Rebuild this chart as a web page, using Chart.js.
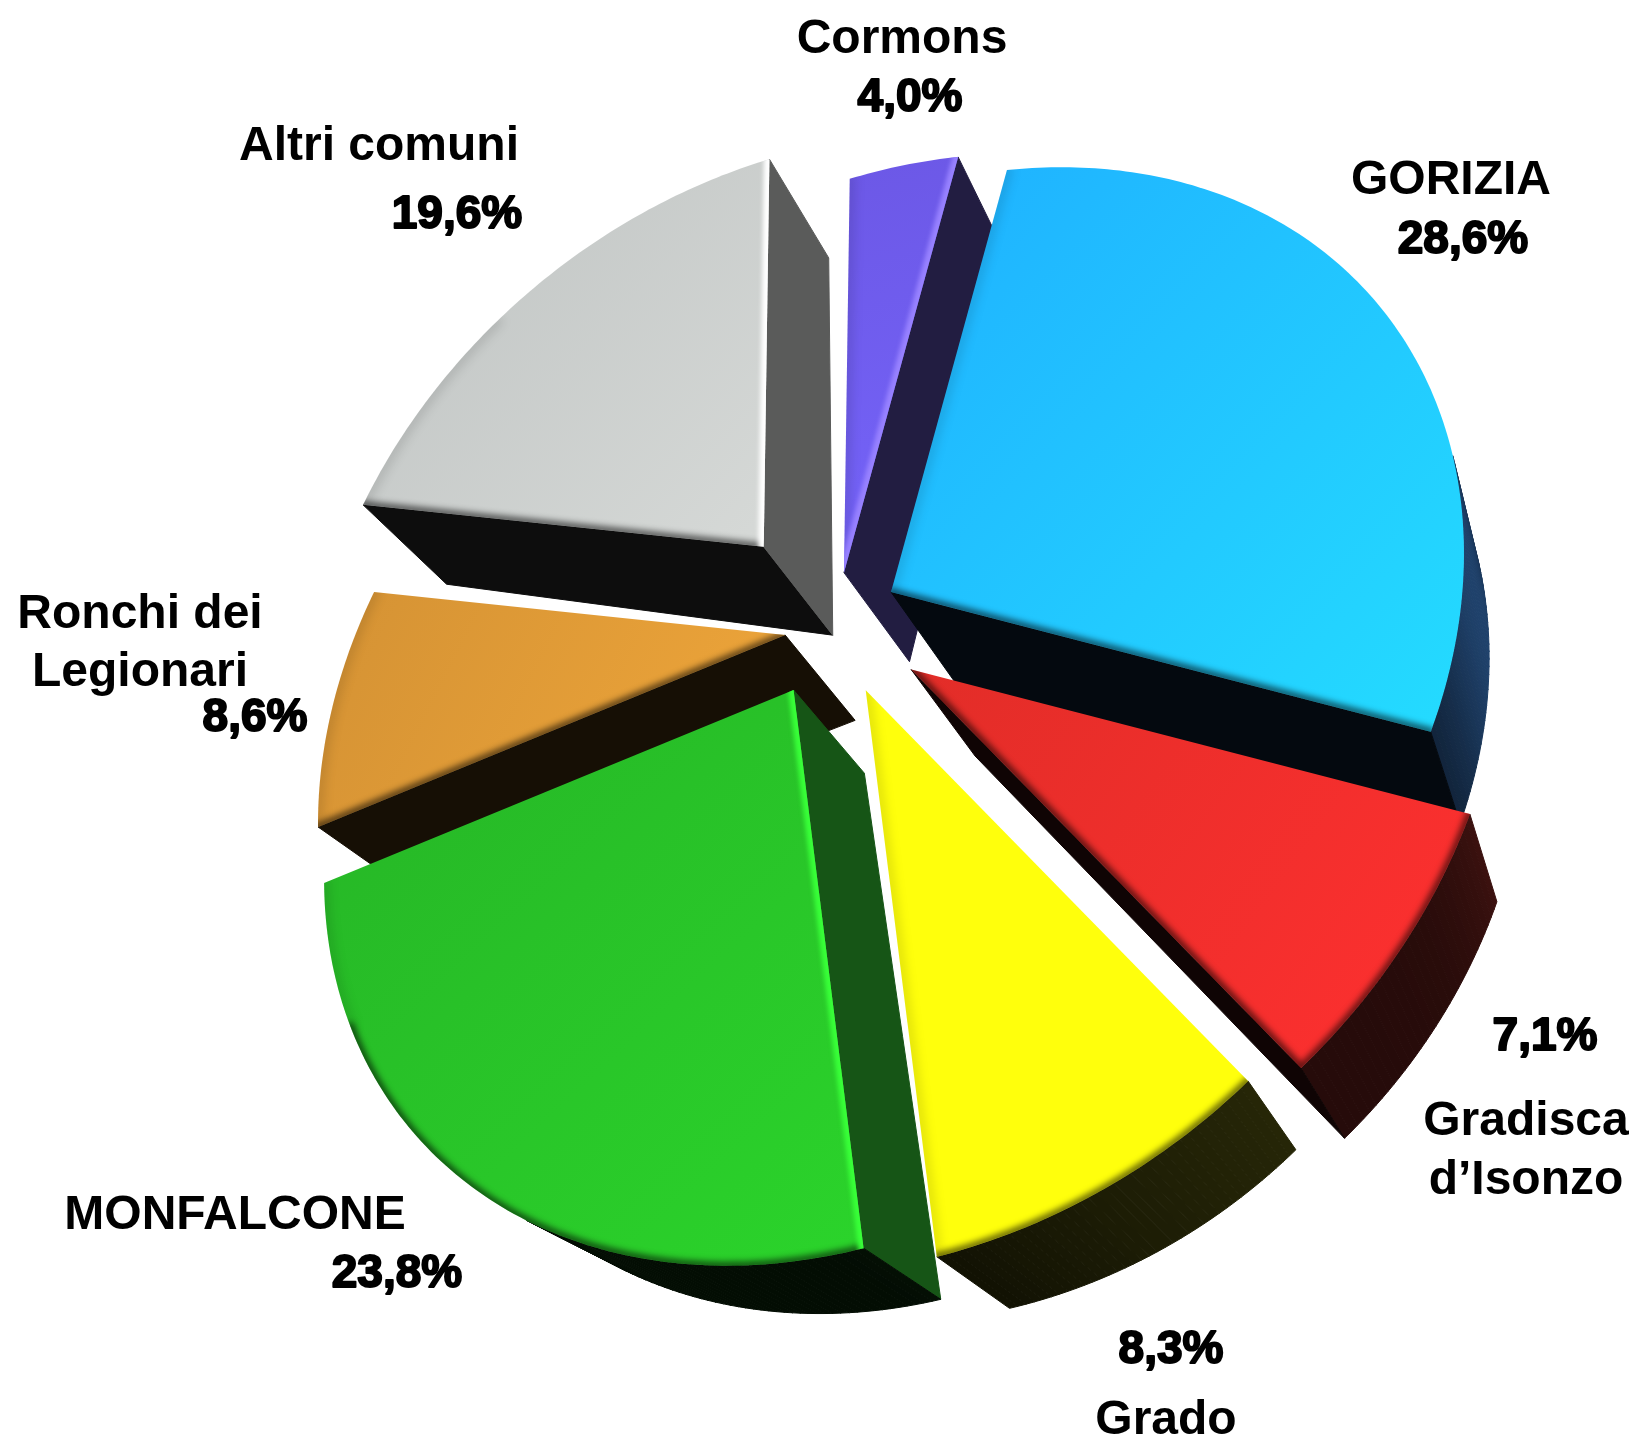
<!DOCTYPE html>
<html>
<head>
<meta charset="utf-8">
<title>Comuni</title>
<script src="https://cdn.jsdelivr.net/npm/chart.js@4/dist/chart.umd.min.js"></script>
<style>
  html, body { margin: 0; padding: 0; background: #fff; }
  canvas { display: block; }
</style>
</head>
<body>
<canvas id="myPie" width="1638" height="1437"></canvas>
<script>
const categories = ['GORIZIA', ['Gradisca', 'd\u2019Isonzo'], 'Grado', 'MONFALCONE', ['Ronchi dei', 'Legionari'], 'Altri comuni', 'Cormons'];
const shares = [28.6, 7.1, 8.3, 23.8, 8.6, 19.6, 4.0];

// how far each slice is pulled out, px on the pie's own radius
const explode = [47, 78, 64, 56, 40, 100, 45];
// perspective: slices nearer the viewer look a bit bigger
const faceScale = [0.995, 1.03, 1.01, 0.995, 0.99, 0.965, 0.98];
const faceFrom = ['#1fb0ff', '#e22d28', '#ffff0c', '#26b426', '#d49234', '#bfc3c2', '#6c58e6'];
const faceTo = ['#24dcff', '#ff3030', '#ffff0c', '#2bd42b', '#efa63a', '#d6d9d7', '#7564fa'];
const sideBase = ['#4a9cff', '#ff4a40', '#ffff30', '#38dc3a', '#efa63a', '#d6d9d7', '#7564e0'];
const drawOrder = [5, 6, 4, 0, 3, 1, 2];

// centre x + baseline for name lines, then for the percent
const nameSpots = [[1451, 194, 56], [1526, 1135, 59], [1166, 1434, 0], [235, 1229, 0], [140, 628, 58], [379, 160, 0], [902, 53, 0]];
const shareSpots = [[1463, 253], [1545, 1050], [1171, 1363], [397, 1287], [255, 731], [457, 228], [910, 111]];

// tilt of the pie: circle -> picture
const tilt = { a: 492.5, b: -133.6, d: 7.5, e: 486.5, g: -0.141, h: -0.147 };
const vanish = { x: 1794, y: 1865 };

function hexRgb(c) {
  return [1, 3, 5].map(i => parseInt(c.substr(i, 2), 16));
}
function times(rgb, k) {
  return 'rgb(' + rgb.map(v => Math.min(255, Math.round(v * k))).join(',') + ')';
}
function clamp(v) {
  return Math.max(0, Math.min(1, v));
}
function sideShade(nx) {
  return 0.06 + 0.09 * clamp((nx - 0.2) / 0.5) + 0.27 * Math.pow(clamp((nx - 0.65) / 0.35), 6);
}

// outline of one arc element through the tilt
function outline(arc, scale) {
  const off = arc.options.offset / arc.outerRadius;
  const mid = (arc.startAngle + arc.endAngle) / 2;
  const qx = off * Math.cos(mid), qy = off * Math.sin(mid);
  const ax = arc.x + tilt.a * qx + tilt.b * qy;
  const ay = arc.y + tilt.d * qx + tilt.e * qy;
  const pts = [[ax, ay]];
  const steps = Math.max(4, Math.ceil((arc.endAngle - arc.startAngle) * 70));
  for (let i = 0; i <= steps; i++) {
    const t = arc.startAngle + (arc.endAngle - arc.startAngle) * i / steps;
    const u = Math.cos(t), v = Math.sin(t);
    const w = (1 + tilt.g * u + tilt.h * v) / scale;
    pts.push([ax + (tilt.a * u + tilt.b * v) / w, ay + (tilt.d * u + tilt.e * v) / w]);
  }
  return pts;
}

function pushed(p) {
  const dx = vanish.x - p[0], dy = vanish.y - p[1];
  const depth = 0.115 - 0.0000287 * Math.hypot(dx, dy);
  return [p[0] + dx * depth, p[1] + dy * depth];
}

function eachEdge(pts, fn) {
  for (let i = 0; i < pts.length; i++) {
    const p = pts[i], n = pts[(i + 1) % pts.length];
    const dx = n[0] - p[0], dy = n[1] - p[1];
    const len = Math.hypot(dx, dy) || 1;
    fn(p, n, dy / len, -dx / len, i === 0 || i === pts.length - 1);
  }
}

function drawSides(ctx, pts, base) {
  eachEdge(pts, (p, n, nx, ny) => {
    const p2 = pushed(p), n2 = pushed(n);
    if ((p2[0] - p[0]) * nx + (p2[1] - p[1]) * ny <= 0) return;
    const col = times(base, sideShade(nx));
    ctx.fillStyle = col;
    ctx.strokeStyle = col;
    ctx.lineWidth = 1;
    ctx.beginPath();
    ctx.moveTo(p[0], p[1]);
    ctx.lineTo(n[0], n[1]);
    ctx.lineTo(n2[0], n2[1]);
    ctx.lineTo(p2[0], p2[1]);
    ctx.closePath();
    ctx.fill();
    ctx.stroke();
  });
}

function tracePath(ctx, pts) {
  ctx.beginPath();
  pts.forEach((p, i) => i ? ctx.lineTo(p[0], p[1]) : ctx.moveTo(p[0], p[1]));
  ctx.closePath();
}

function drawFace(ctx, pts, from, to, base) {
  const xs = pts.map(p => p[0]), ys = pts.map(p => p[1]);
  const grad = ctx.createLinearGradient(Math.min(...xs), Math.min(...ys), Math.max(...xs), Math.max(...ys));
  grad.addColorStop(0, from);
  grad.addColorStop(1, to);

  ctx.save();
  tracePath(ctx, pts);
  ctx.fillStyle = grad;
  ctx.fill();
  ctx.clip();

  // bevel along the edges of the face
  const dark = new Path2D(), left = new Path2D(), light = new Path2D();
  eachEdge(pts, (p, n, nx, ny, radial) => {
    let path = null;
    if (nx > 0.9 && radial) path = light;
    else if (ny > 0.35) path = dark;
    else if (nx < -0.7) path = left;
    if (path) {
      path.moveTo(p[0], p[1]);
      path.lineTo(n[0], n[1]);
    }
  });
  ctx.lineCap = 'round';
  ctx.filter = 'blur(3px)';
  ctx.strokeStyle = 'rgba(0,0,0,0.6)';
  ctx.lineWidth = 8;
  ctx.stroke(dark);
  ctx.filter = 'blur(5px)';
  ctx.strokeStyle = 'rgba(0,0,0,0.1)';
  ctx.lineWidth = 12;
  ctx.stroke(left);
  ctx.filter = 'blur(2px)';
  ctx.strokeStyle = times(base, 1.3);
  ctx.lineWidth = 11;
  ctx.stroke(light);
  ctx.restore();
}

const tiltedPie = {
  id: 'tiltedPie',
  beforeDatasetDraw(chart) {
    const ctx = chart.ctx;
    const arcs = chart.getDatasetMeta(0).data;
    drawOrder.forEach(i => {
      const pts = outline(arcs[i], faceScale[i]);
      drawSides(ctx, pts, hexRgb(sideBase[i]));
      drawFace(ctx, pts, faceFrom[i], faceTo[i], hexRgb(faceTo[i]));
    });
    return false;
  },
  afterDraw(chart) {
    const ctx = chart.ctx;
    ctx.save();
    ctx.fillStyle = '#000';
    ctx.strokeStyle = '#000';
    ctx.textAlign = 'center';
    ctx.textBaseline = 'alphabetic';
    ctx.lineJoin = 'round';
    categories.forEach((name, i) => {
      const lines = [].concat(name);
      const spot = nameSpots[i];
      ctx.font = 'bold 48px "Liberation Sans"';
      lines.forEach((line, k) => ctx.fillText(line, spot[0], spot[1] + k * spot[2]));
      ctx.font = 'bold 46px "Liberation Sans"';
      ctx.lineWidth = 2;
      const pct = shares[i].toFixed(1).replace('.', ',') + '%';
      ctx.fillText(pct, shareSpots[i][0], shareSpots[i][1]);
      ctx.strokeText(pct, shareSpots[i][0], shareSpots[i][1]);
    });
    ctx.restore();
  }
};

const ctx = document.getElementById('myPie').getContext('2d');
const myPie = new Chart(ctx, {
  type: 'pie',
  data: {
    labels: categories,
    datasets: [{
      data: shares,
      backgroundColor: faceTo,
      borderWidth: 0,
      offset: explode
    }]
  },
  plugins: [tiltedPie],
  options: {
    responsive: false,
    animation: false,
    radius: 400,
    rotation: 0,
    layout: { padding: { left: 34, right: 0, top: 0, bottom: 183 } },
    plugins: {
      legend: { display: false },
      tooltip: { enabled: false }
    }
  }
});
</script>
</body>
</html>
